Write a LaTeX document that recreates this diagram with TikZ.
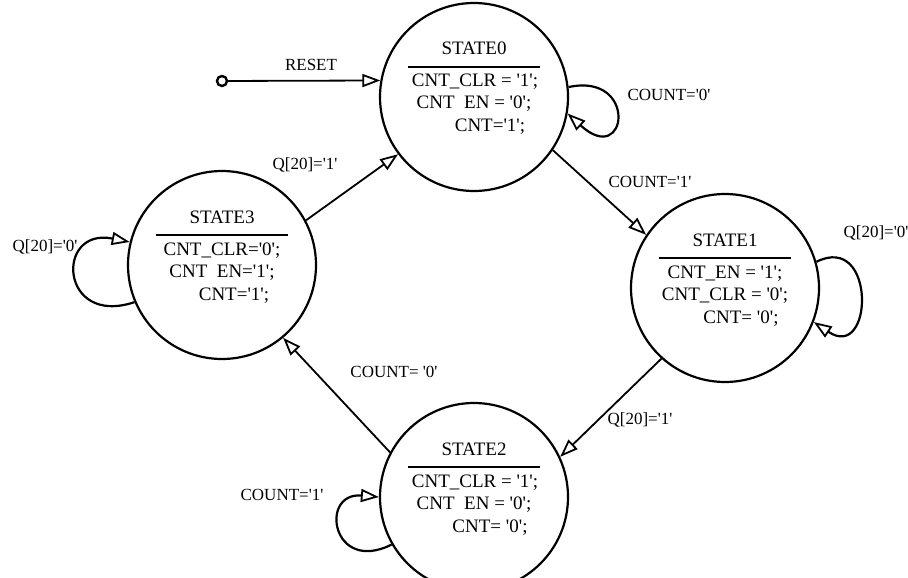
\documentclass[tikz,border=0pt]{standalone}
\usepackage{fontspec}
\newfontfamily\diagfont{Liberation Serif}
\usetikzlibrary{arrows.meta}
\usetikzlibrary{calc}

\begin{document}
\begin{tikzpicture}[ x = 0.5pt, y = -0.5pt
                   , font = \diagfont\fontsize{9.5}{11}\selectfont
                   , >={Triangle[open, length=9pt, width=6.5pt, line width=0.9pt]}
                   ]

  \clip (0,0) rectangle (908,577);

  %%
  %% Nodes
  %%
  \tikzset{ state/.style={circle, draw, line width=1.1pt, minimum size=94pt, inner sep=0pt}
          , title/.style={anchor=base, inner sep=0pt}
          , bar/.style={line width=1.3pt}
          , dot/.style={circle, draw, line width=1.2pt, minimum size=5pt, inner sep=0pt}
          , lbl/.style={inner sep=0pt, font=\diagfont\fontsize{8.5}{10}\selectfont}
          , trans/.style={line width=0.9pt}
          , loop/.style={line width=1.1pt}
          }

  \node (s0) [state] at (474,97) {};
  \node (s1) [state] at (725,288) {};
  \node (s2) [state] at (474,497) {};
  \node (s3) [state] at (222,265) {};
  \node (rst) [dot] at (222,81) {};

  % STATE0
  \node (t0) [title] at ($(s0)+(0,-42)$) {STATE0};
  \draw [bar] ($(s0)+(-66,-30)$) -- ($(s0)+(66,-30)$);
  \node (a0) [title] at ($(s0)+(1,-10)$) {CNT\_CLR = '1';};
  \node (b0) [title] at ($(s0)+(0,12)$) {CNT\phantom{\_}EN = '0';};
  \node (c0) [title] at ($(s0)+(16,35)$) {CNT='1';};
  % STATE1
  \node (t1) [title] at ($(s1)+(0,-42)$) {STATE1};
  \draw [bar] ($(s1)+(-66,-30)$) -- ($(s1)+(66,-30)$);
  \node (a1) [title] at ($(s1)+(0,-10)$) {CNT\_EN = '1';};
  \node (b1) [title] at ($(s1)+(0,12)$) {CNT\_CLR = '0';};
  \node (c1) [title] at ($(s1)+(16,35)$) {CNT= '0';};
  % STATE2
  \node (t2) [title] at ($(s2)+(0,-42)$) {STATE2};
  \draw [bar] ($(s2)+(-66,-30)$) -- ($(s2)+(66,-30)$);
  \node (a2) [title] at ($(s2)+(1,-10)$) {CNT\_CLR = '1';};
  \node (b2) [title] at ($(s2)+(0,12)$) {CNT\phantom{\_}EN = '0';};
  \node (c2) [title] at ($(s2)+(16,35)$) {CNT= '0';};
  % STATE3
  \node (t3) [title] at ($(s3)+(0,-42)$) {STATE3};
  \draw [bar] ($(s3)+(-66,-30)$) -- ($(s3)+(66,-30)$);
  \node (a3) [title] at ($(s3)+(0,-10)$) {CNT\_CLR='0';};
  \node (b3) [title] at ($(s3)+(0,12)$) {CNT\phantom{\_}EN='1';};
  \node (c3) [title] at ($(s3)+(12,35)$) {CNT='1';};

  % Labels
  \node (lrst) [lbl] at (311,65) {RESET};
  \node (l00) [lbl] at (669,95) {COUNT='0'};
  \node (l01) [lbl] at (650,182) {COUNT='1'};
  \node (l11) [lbl] at (876,233) {Q[20]='0'};
  \node (l12) [lbl] at (640,420) {Q[20]='1'};
  \node (l23) [lbl] at (394,372) {COUNT= '0'};
  \node (l22) [lbl] at (282,495) {COUNT='1'};
  \node (l33) [lbl] at (45,247) {Q[20]='0'};
  \node (l30) [lbl] at (305,165) {Q[20]='1'};

  %%
  %% Transitions
  %%
  \draw [trans, ->] (rst) -- (s0.170);
  \draw [trans, ->] (s0.-34) -- (s1.146);
  \draw [trans, ->] (s1.228) -- (s2.25);
  \draw [trans, ->] (s2.152) -- (s3.-50);
  \draw [trans, ->] (s3.28) -- (s0.217);
  % Self loops.
  \draw [loop, ->] (s0.6) .. controls +(70,-15) and +(60,55) .. (s0.-10);
  \draw [loop, ->] (s1.16) .. controls +(60,-30) and +(60,40) .. (s1.-21);
  \draw [loop, ->] (s2.210) .. controls +(-60,30) and +(-60,-5) .. (s2.180);
  \draw [loop, ->] (s3.203) .. controls +(-75,25) and +(-75,-15) .. (s3.166);
\end{tikzpicture}
\end{document}
